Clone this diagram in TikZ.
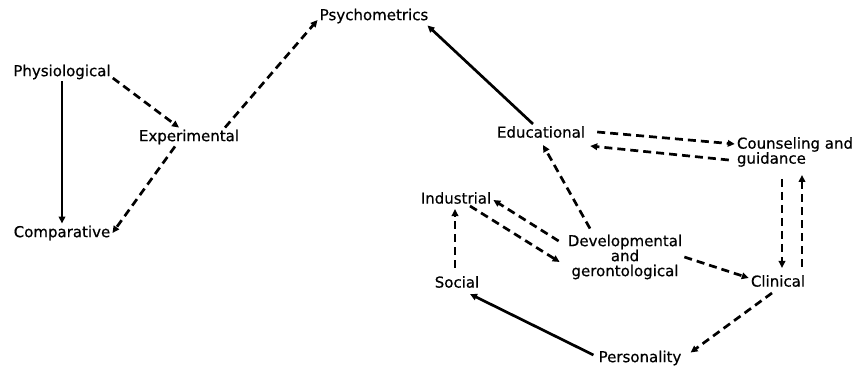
\documentclass[tikz,border=0pt]{standalone}
\usepackage{fontspec}
\setmainfont[FakeBold=0.6]{DejaVu Sans}
\usetikzlibrary{arrows.meta}

\begin{document}
\begin{tikzpicture}[x=1pt,y=-1pt,lbl/.style={inner sep=2pt,align=center,font=\fontsize{15}{15}\selectfont},lnk/.style={-{Triangle[length=7pt,width=6.5pt]},line width=2.7pt},dlnk/.style={lnk,dash pattern=on 8pt off 5pt}]
\useasboundingbox (0,0) rectangle (855,369);
\node[lbl] (phys) at (62,72) {Physiological};
\node[lbl] (exper) at (189,137) {Experimental};
\node[lbl] (comp) at (62,233) {Comparative};
\node[lbl] (psych) at (374,16) {Psychometrics};
\node[lbl] (edu) at (541,132) {Educational};
\node[lbl,align=left] (couns) at (795,152) {Counseling and\\guidance};
\node[lbl] (ind) at (456,198) {Industrial};
\node[lbl] (dev) at (625,257) {Developmental\\and\\gerontological};
\node[lbl] (soc) at (457,282) {Social};
\node[lbl] (clin) at (778,281) {Clinical};
\node[lbl] (pers) at (640,358) {Personality};
\draw[lnk] (phys.south) -- (comp.north);
\draw[dlnk] ([yshift=-6pt]phys.east) -- ([xshift=-10pt]exper.north);
\draw[dlnk] ([xshift=-14pt]exper.south) -- (comp.east);
\draw[dlnk] ([xshift=36pt]exper.north) -- ([yshift=-4pt]psych.west);
\draw[lnk] ([xshift=-8pt]edu.north) -- ([xshift=-3pt]psych.south east);
\draw[dlnk] ([xshift=10pt]edu.east) -- ([yshift=8pt]couns.west);
\draw[dlnk] ([xshift=-6pt,yshift=-8pt]couns.west) -- ([xshift=3pt,yshift=-6pt]edu.south east);
\draw[dlnk] ([xshift=-35pt,yshift=4pt]dev.north) -- ([xshift=2pt,yshift=-5pt]edu.south);
\draw[dlnk] ([xshift=-7pt,yshift=16pt]dev.west) -- ([yshift=-2pt]ind.east);
\draw[dlnk] ([xshift=14pt]ind.south) -- ([xshift=-6pt,yshift=-5pt]dev.west);
\draw[dlnk] (dev.east) -- ([yshift=3pt]clin.west);
\draw[dlnk] ([xshift=-13pt,yshift=-10pt]couns.south) -- ([xshift=4pt,yshift=5pt]clin.north);
\draw[dlnk] ([xshift=24pt,yshift=6pt]clin.north) -- ([xshift=7pt,yshift=-6pt]couns.south);
\draw[dlnk] ([xshift=-2pt,yshift=6pt]soc.north) -- ([xshift=-1pt,yshift=-3pt]ind.south);
\draw[lnk] ([xshift=-3pt,yshift=3pt]pers.west) -- ([xshift=13pt,yshift=-4pt]soc.south);
\draw[dlnk] ([xshift=-6pt,yshift=-4pt]clin.south) -- ([xshift=7pt,yshift=-4pt]pers.north east);
\end{tikzpicture}
\end{document}
